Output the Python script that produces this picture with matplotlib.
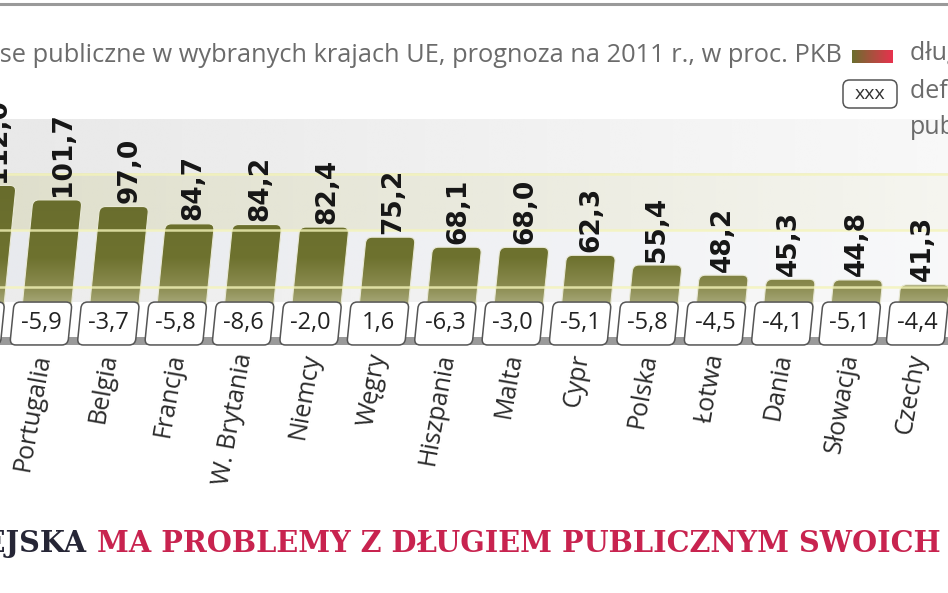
import numpy as np
import matplotlib
matplotlib.use('agg')
import matplotlib.pyplot as plt
from matplotlib.patches import FancyBboxPatch, Rectangle
from matplotlib.lines import Line2D
from matplotlib.transforms import Affine2D

# dług publiczny i deficyt, prognoza na 2011 r., w proc. PKB
countries = ['Irlandia', 'Portugalia', 'Belgia', 'Francja', 'W. Brytania', 'Niemcy', 'Węgry',
             'Hiszpania', 'Malta', 'Cypr', 'Polska', 'Łotwa', 'Dania', 'Słowacja', 'Czechy']
debt = [112.0, 101.7, 97.0, 84.7, 84.2, 82.4, 75.2, 68.1, 68.0, 62.3, 55.4, 48.2, 45.3, 44.8, 41.3]
deficit = [-10.5, -5.9, -3.7, -5.8, -8.6, -2.0, 1.6, -6.3, -3.0, -5.1, -5.8, -4.5, -4.1, -5.1, -4.4]
grid_levels = [40, 80, 120]

subtitle = 'Finanse publiczne w wybranych krajach UE, prognoza na 2011 r., w proc. PKB'
title_dark = 'UNIA EUROPEJSKA'
title_red = 'MA PROBLEMY Z DŁUGIEM PUBLICZNYM SWOICH CZŁONKÓW'


def pl(v):
    return '{:.1f}'.format(v).replace('.', ',')


W, H = 948, 593
fig = plt.figure(figsize=(W / 100, H / 100), dpi=100)
ax = fig.add_axes([0, 0, 1, 1])
XL = (0.4214, 14.487)
YL = (-177.7, 243.8)

# background bands, fading to the right
bands = [(158.5, 120, '#e9e9e9'), (120, 80, '#dfdfcc'), (80, 40, '#e8eaee'), (40, 29, '#ececec')]
for hi, lo, col in bands:
    rgb = matplotlib.colors.to_rgb(col)
    arr = np.ones((1, 200, 4))
    arr[..., :3] = rgb
    arr[..., 3] = np.linspace(1.0, 0.3, 200)
    ax.imshow(arr, extent=(XL[0], XL[1], lo, hi), aspect='auto', zorder=0, interpolation='bilinear')

skew = Affine2D().skew(np.arctan(0.0021), 0)
tr = skew + ax.transData
tr_lab = Affine2D().skew(np.arctan(0.004), 0) + ax.transData

base = 29.0
bw = 0.73
off = 0.06
# vertical colour stops for the bars (value -> colour)
stops_v = [29, 40, 60, 160]
stops_c = np.array([matplotlib.colors.to_rgb(c) for c in ['#a3a473', '#8a8b4f', '#6e722f', '#62662a']])
vv = np.linspace(160, base - 10, 300)
grad = np.stack([np.interp(vv, stops_v, stops_c[:, k]) for k in range(3)], axis=-1)[:, None, :]

for i, v in enumerate(debt):
    x0 = i + off - bw / 2
    p = FancyBboxPatch((x0, base - 10), bw, v - base + 10,
                       boxstyle='round,pad=0,rounding_size=0.09', mutation_aspect=47.9,
                       transform=tr, facecolor='none', edgecolor='#e9e9d6', lw=0.8, zorder=3)
    ax.add_patch(p)
    im = ax.imshow(grad, extent=(x0 - 0.1, x0 + bw + 0.5, base - 10, 160), aspect='auto', zorder=2)
    im.set_clip_path(p)
    ax.text(i - 0.06, v + 2.5, pl(v), rotation=90, ha='center', va='bottom', transform=tr_lab,
            fontsize=19, fontweight='bold', family='DejaVu Sans', color='#161616', zorder=6)

for g in grid_levels:
    ax.axhline(g, color='#f4f4b8', lw=1.8, alpha=0.8, zorder=4)

# strip under the deficit boxes
ax.add_patch(Rectangle((XL[0], -1.4), XL[1] - XL[0], 6.0, facecolor='#9a9a9a', edgecolor='none', zorder=4.5))

for i, d in enumerate(deficit):
    b = FancyBboxPatch((i - 0.43, -1.4), 0.86, 30.5,
                       boxstyle='round,pad=0,rounding_size=0.09', mutation_aspect=47.9,
                       transform=tr, facecolor='white', edgecolor='#555555', lw=1.1, zorder=5)
    ax.add_patch(b)
    ax.text(i, 14, pl(d), ha='center', va='center', transform=tr, fontsize=17,
            family='Open Sans', color='#222222', zorder=6)
    ax.text(i + 0.05, -7.5, countries[i], rotation=80, rotation_mode='anchor', ha='right', va='center',
            fontsize=18, family='Open Sans', color='#2b2b2b', zorder=6)

ax.set_xlim(*XL)
ax.set_ylim(*YL)
ax.axis('off')

# header
fig.add_artist(Line2D([0, 1], [1 - 4 / H] * 2, transform=fig.transFigure, color='#9a9a9a', lw=2.2))
fig.text(842 / W, 1 - 55 / H, subtitle, ha='right', va='center', fontsize=18.3,
         family='Open Sans', color='#6b6b6b')

# legend
lax = fig.add_axes([852 / W, 1 - 63 / H, 41 / W, 13 / H])
sw = np.linspace(0, 1, 100)
c1 = np.array(matplotlib.colors.to_rgb('#6b6e2e'))
c2 = np.array(matplotlib.colors.to_rgb('#e8324e'))
lg = (c1[None, :] * (1 - sw[:, None]) + c2[None, :] * sw[:, None])[None, :, :]
lax.imshow(lg, aspect='auto', interpolation='bilinear')
lax.axis('off')
fig.text(910 / W, 1 - 54 / H, 'dług publiczny', ha='left', va='center', fontsize=18,
         family='Open Sans', color='#6b6b6b')
fig.add_artist(FancyBboxPatch((843 / W, 1 - 108 / H), 54 / W, 28 / H,
                              boxstyle='round,pad=0,rounding_size=0.007', mutation_aspect=W / H,
                              transform=fig.transFigure, facecolor='white', edgecolor='#555555', lw=1.1))
fig.text(870 / W, 1 - 94 / H, 'xxx', ha='center', va='center', fontsize=14,
         family='Open Sans', color='#333333')
fig.text(910 / W, 1 - 92 / H, 'deficyt finansów', ha='left', va='center', fontsize=18,
         family='Open Sans', color='#6b6b6b')
fig.text(910 / W, 1 - 128 / H, 'publicznych', ha='left', va='center', fontsize=18,
         family='Open Sans', color='#6b6b6b')

# bottom title
fig.text(86 / W, 1 - 544 / H, title_dark, ha='right', va='center', fontsize=20.7, fontweight='bold',
         family='DejaVu Serif', color='#262636')
fig.text(97 / W, 1 - 544 / H, title_red, ha='left', va='center', fontsize=20.7, fontweight='bold',
         family='DejaVu Serif', color='#c8234f')

fig.savefig('out.png', dpi=100)
